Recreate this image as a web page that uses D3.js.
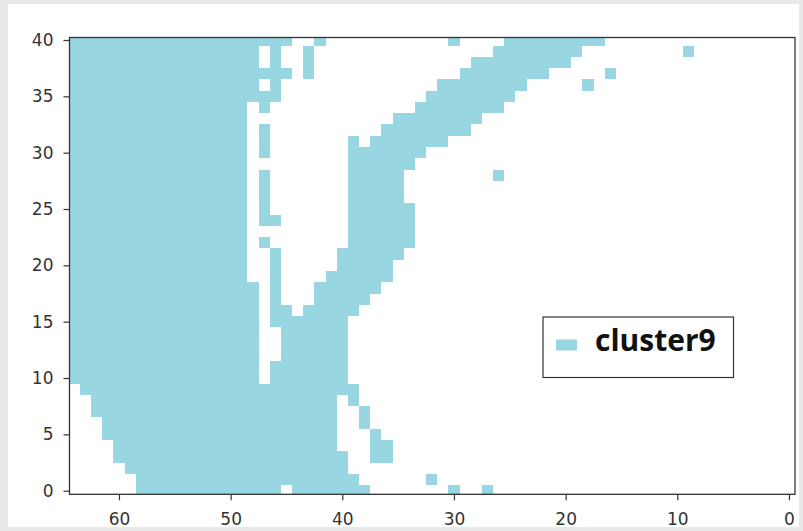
<!DOCTYPE html>
<html>
<head>
<meta charset="utf-8">
<script src="https://cdn.jsdelivr.net/npm/d3@7"></script>
<style>
  body { margin: 0; background: #e9e9e9; }
  svg { display: block; }
</style>
</head>
<body>
<svg id="chart" width="803" height="531"></svg>
<script>
// Series and axis labels
const seriesName = "cluster9";
const xTicks = [60, 50, 40, 30, 20, 10, 0];
const yTicks = [0, 5, 10, 15, 20, 25, 30, 35, 40];

// Occupied grid cells, stored as horizontal runs: [y, xFrom, xTo] (inclusive, xFrom >= xTo)
const filledRuns = [
  [40, 64, 45], [40, 42, 42], [40, 30, 30], [40, 25, 17],
  [39, 64, 48], [39, 46, 46], [39, 43, 43], [39, 26, 19], [39, 9, 9],
  [38, 64, 48], [38, 46, 46], [38, 43, 43], [38, 28, 20],
  [37, 64, 45], [37, 43, 43], [37, 29, 22], [37, 16, 16],
  [36, 64, 48], [36, 46, 46], [36, 31, 24], [36, 18, 18],
  [35, 64, 46], [35, 32, 25],
  [34, 64, 49], [34, 47, 47], [34, 33, 26],
  [33, 64, 49], [33, 35, 28],
  [32, 64, 49], [32, 47, 47], [32, 36, 29],
  [31, 64, 49], [31, 47, 47], [31, 39, 39], [31, 37, 31],
  [30, 64, 49], [30, 47, 47], [30, 39, 33],
  [29, 64, 49], [29, 39, 34],
  [28, 64, 49], [28, 47, 47], [28, 39, 35], [28, 26, 26],
  [27, 64, 49], [27, 47, 47], [27, 39, 35],
  [26, 64, 49], [26, 47, 47], [26, 39, 35],
  [25, 64, 49], [25, 47, 47], [25, 39, 34],
  [24, 64, 49], [24, 47, 46], [24, 39, 34],
  [23, 64, 49], [23, 39, 34],
  [22, 64, 49], [22, 47, 47], [22, 39, 34],
  [21, 64, 49], [21, 46, 46], [21, 40, 35],
  [20, 64, 49], [20, 46, 46], [20, 40, 36],
  [19, 64, 49], [19, 46, 46], [19, 41, 36],
  [18, 64, 48], [18, 46, 46], [18, 42, 37],
  [17, 64, 48], [17, 46, 46], [17, 42, 38],
  [16, 64, 48], [16, 46, 45], [16, 43, 39],
  [15, 64, 48], [15, 46, 40],
  [14, 64, 48], [14, 45, 40],
  [13, 64, 48], [13, 45, 40],
  [12, 64, 48], [12, 45, 40],
  [11, 64, 48], [11, 46, 40],
  [10, 64, 48], [10, 46, 40],
  [9, 63, 39],
  [8, 62, 41], [8, 39, 39],
  [7, 62, 41], [7, 38, 38],
  [6, 61, 41], [6, 38, 38],
  [5, 61, 41], [5, 37, 37],
  [4, 60, 41], [4, 37, 36],
  [3, 60, 40], [3, 37, 36],
  [2, 59, 40],
  [1, 58, 39], [1, 32, 32],
  [0, 58, 46], [0, 44, 38], [0, 30, 30], [0, 27, 27]
];

const cells = [];
filledRuns.forEach(([cy, from, to]) => {
  for (let cx = from; cx >= to; cx--) cells.push({ x: cx, y: cy });
});

const cellColor = "#98d6e2";
const inkColor = "#333";

const svg = d3.select("#chart");

// white figure panel
svg.append("rect")
  .attr("x", 8).attr("y", 4)
  .attr("width", 791).attr("height", 523)
  .attr("fill", "#fff");

const plot = { left: 69.5, right: 795, top: 37.5, bottom: 494.3 };

// x runs right-to-left (inverted axis)
const x = d3.scaleLinear().domain([64.43, -0.54]).range([plot.left, plot.right]);
const y = d3.scaleLinear().domain([-0.32, 40.22]).range([plot.bottom, plot.top]);

svg.append("clipPath").attr("id", "plot-clip")
  .append("rect")
  .attr("x", plot.left).attr("y", plot.top)
  .attr("width", plot.right - plot.left)
  .attr("height", plot.bottom - plot.top);

svg.append("g")
  .attr("clip-path", "url(#plot-clip)")
  .attr("shape-rendering", "crispEdges")
  .selectAll("rect")
  .data(cells)
  .join("rect")
  .attr("x", d => x(d.x + 0.5))
  .attr("y", d => y(d.y + 0.5))
  .attr("width", d => x(d.x - 0.5) - x(d.x + 0.5))
  .attr("height", d => y(d.y - 0.5) - y(d.y + 0.5))
  .attr("fill", cellColor);

// axes
const xAxis = svg.append("g")
  .attr("transform", `translate(0,${plot.bottom})`)
  .call(d3.axisBottom(x).tickValues(xTicks).tickSize(6).tickPadding(13).tickFormat(d3.format("d")));
const yAxis = svg.append("g")
  .attr("transform", `translate(${plot.left},0)`)
  .call(d3.axisLeft(y).tickValues(yTicks).tickSize(6).tickPadding(10).tickFormat(d3.format("d")));

[xAxis, yAxis].forEach(g => {
  g.select(".domain").remove();
  g.selectAll(".tick line").attr("stroke", inkColor).attr("stroke-width", 1.2);
  g.selectAll(".tick text")
    .attr("fill", inkColor)
    .style("font-family", "'DejaVu Sans', sans-serif")
    .style("font-size", "17px");
});

// frame
svg.append("rect")
  .attr("x", plot.left).attr("y", plot.top)
  .attr("width", plot.right - plot.left)
  .attr("height", plot.bottom - plot.top)
  .attr("fill", "none")
  .attr("stroke", inkColor)
  .attr("stroke-width", 1.3);

// legend
const legend = svg.append("g").attr("transform", "translate(543,317)");
legend.append("rect")
  .attr("width", 190.5).attr("height", 60.5)
  .attr("fill", "#fff")
  .attr("stroke", inkColor)
  .attr("stroke-width", 1.2);
legend.append("rect")
  .attr("x", 13).attr("y", 22.5)
  .attr("width", 21).attr("height", 11)
  .attr("fill", cellColor);
legend.append("text")
  .attr("x", 52).attr("y", 34)
  .attr("fill", "#111")
  .style("font-family", "'Open Sans', sans-serif")
  .style("font-weight", "700")
  .style("font-size", "30px")
  .text(seriesName);
</script>
</body>
</html>
